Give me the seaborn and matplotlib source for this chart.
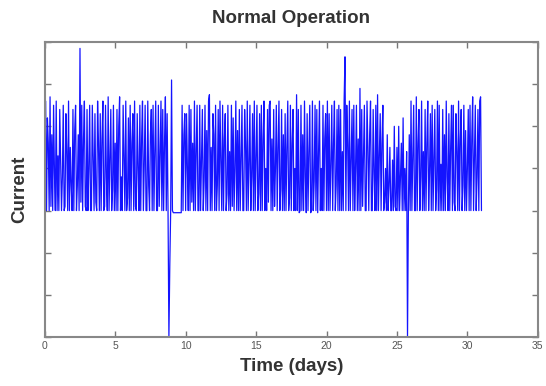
import numpy as np
import pandas as pd
import matplotlib
matplotlib.use("Agg")
import matplotlib.pyplot as plt
import seaborn as sns

# ---- data ----
step_days = 0.0625
current = [
    4.4, 5.6, 3.0, 5.2, 4.6, 3.0, 5.7, 3.1, 4.8, 3.0, 5.5, 3.9, 3.0, 5.6, 3.0, 4.3,
    3.0, 5.4, 4.2, 3.0, 3.8, 5.5, 3.0, 3.1, 5.3, 4.4, 3.0, 5.6, 3.0, 4.5, 3.6, 3.0,
    5.4, 3.0, 4.9, 5.5, 3.0, 3.6, 4.8, 3.0, 6.85, 3.2, 5.5, 3.0, 4.7, 5.6, 3.1, 3.0,
    5.4, 3.0, 4.0, 5.5, 3.0, 3.0, 5.5, 4.2, 3.0, 5.3, 3.2, 3.0, 5.6, 4.6, 3.0, 5.3,
    3.0, 4.7, 5.6, 3.0, 3.1, 5.5, 3.8, 3.0, 5.7, 3.0, 4.2, 5.4, 3.0, 3.5, 5.5, 3.0,
    4.6, 3.0, 5.4, 3.0, 5.0, 5.7, 3.0, 3.8, 3.0, 5.5, 4.3, 3.0, 5.6, 3.0, 3.3, 5.2,
    3.0, 5.5, 3.0, 4.6, 5.3, 3.0, 5.6, 3.1, 3.0, 5.3, 4.0, 3.0, 5.5, 3.0, 4.7, 5.6,
    3.0, 4.1, 5.5, 3.0, 3.0, 5.6, 3.6, 3.0, 4.8, 5.4, 3.0, 5.5, 3.0, 4.4, 5.6, 3.0,
    3.0, 5.5, 3.1, 4.3, 5.6, 3.0, 5.4, 3.0, 4.6, 5.7, 3.0, 5.3, 3.0, 0.0, 1.7, 3.0,
    6.1, 3.0, 2.95, 2.95, 2.95, 2.95, 2.95, 2.95, 2.95, 2.95, 2.95, 2.95, 5.5, 3.0, 4.8, 5.3,
    3.0, 5.3, 4.0, 3.0, 5.5, 3.0, 5.4, 3.2, 4.6, 3.0, 5.6, 3.0, 4.4, 5.5, 3.0, 3.0,
    5.5, 3.0, 4.2, 5.4, 3.0, 3.7, 5.5, 3.0, 4.9, 3.0, 5.6, 5.75, 3.0, 4.5, 3.0, 5.3,
    4.8, 3.0, 5.5, 3.0, 3.6, 5.4, 3.0, 5.6, 4.2, 3.0, 5.5, 3.0, 4.7, 5.3, 3.0, 3.4,
    5.5, 3.0, 4.4, 3.0, 5.5, 3.1, 5.2, 3.0, 4.0, 5.6, 3.0, 4.9, 3.0, 5.4, 3.0, 4.3,
    5.5, 3.0, 3.0, 5.4, 4.6, 3.0, 5.6, 3.0, 4.1, 5.5, 3.0, 3.8, 5.3, 3.0, 5.6, 3.0,
    4.2, 5.5, 3.0, 3.4, 5.3, 3.0, 5.5, 3.0, 4.7, 5.6, 3.0, 4.0, 3.0, 5.4, 3.2, 5.5,
    5.6, 3.0, 4.7, 3.0, 5.4, 3.1, 4.0, 5.5, 3.0, 4.5, 5.6, 3.0, 3.5, 5.4, 3.0, 4.8,
    3.0, 5.3, 3.0, 4.5, 5.6, 3.0, 3.3, 5.5, 3.0, 4.6, 5.4, 3.0, 4.0, 3.0, 5.75, 3.0,
    5.4, 2.95, 3.0, 5.5, 3.0, 4.8, 3.0, 5.6, 3.8, 2.95, 5.3, 3.0, 4.4, 5.5, 2.95, 3.0,
    5.6, 3.0, 3.7, 5.5, 3.0, 5.4, 2.95, 4.4, 5.6, 3.0, 4.0, 3.0, 5.5, 3.0, 4.7, 5.3,
    3.0, 5.6, 3.0, 5.3, 3.0, 4.1, 5.5, 3.0, 4.6, 5.6, 3.0, 3.6, 5.4, 3.0, 5.5, 3.0,
    5.4, 3.0, 4.4, 3.0, 5.6, 6.65, 3.0, 5.5, 4.6, 3.0, 5.6, 3.0, 4.2, 5.4, 3.0, 5.5,
    3.0, 4.0, 5.5, 3.0, 4.7, 3.0, 5.9, 3.0, 5.4, 3.1, 4.3, 5.5, 3.0, 3.0, 5.6, 4.5,
    3.0, 4.8, 5.6, 3.0, 3.0, 5.4, 3.9, 3.0, 5.5, 3.0, 5.75, 3.0, 4.3, 5.3, 3.0, 4.6,
    5.5, 3.0, 3.2, 4.0, 3.0, 4.8, 3.0, 3.6, 4.5, 3.0, 3.0, 4.2, 3.0, 5.0, 3.1, 3.0,
    4.5, 3.0, 5.0, 3.0, 3.8, 4.6, 3.0, 5.2, 3.0, 4.0, 3.0, 4.4, 0.0, 3.0, 4.8, 3.0,
    5.6, 3.0, 4.2, 5.5, 3.0, 3.0, 5.7, 3.0, 4.6, 5.4, 3.0, 3.8, 5.6, 3.0, 4.4, 3.0,
    5.4, 3.0, 4.6, 5.6, 3.0, 3.9, 5.3, 3.0, 5.5, 3.0, 4.2, 5.4, 3.0, 3.5, 5.6, 3.0,
    5.5, 3.0, 4.1, 3.0, 5.4, 3.0, 4.8, 3.0, 5.6, 3.8, 3.0, 5.3, 3.0, 4.5, 5.5, 3.0,
    5.5, 3.2, 3.0, 5.3, 4.4, 3.0, 5.6, 3.0, 4.7, 5.4, 3.0, 3.6, 5.5, 3.0, 4.9, 3.0,
    4.0, 5.4, 3.0, 5.5, 3.0, 4.7, 5.7, 3.0, 4.3, 5.5, 3.0, 3.8, 5.4, 3.0, 5.6, 5.7,
    3.0,
]
time_days = np.arange(len(current)) * step_days
x_ticks = [0, 5, 10, 15, 20, 25, 30, 35]

df = pd.DataFrame({"Time (days)": time_days, "Current": current})

sns.set_theme(style="white")
plt.rcParams["font.family"] = ["Liberation Sans", "DejaVu Sans"]

fig = plt.figure(figsize=(5.46, 3.86), dpi=100)
ax = fig.add_axes([0.082, 0.127, 0.903, 0.764])

sns.lineplot(data=df, x="Time (days)", y="Current", ax=ax,
             color="#1414ff", linewidth=0.9, estimator=None, sort=False)

ax.set_xlim(0, 35)
ax.set_ylim(0, 7)
ax.set_xticks(x_ticks)
ax.set_xticklabels([str(t) for t in x_ticks])
ax.set_yticks(range(0, 8))
ax.set_yticklabels([])
ax.tick_params(direction="in", length=4, width=1, color="#777777",
               top=True, right=True, bottom=True, left=True,
               labelsize=7.5, labelcolor="#555555", pad=3)
for s in ax.spines.values():
    s.set_color("#888888")
    s.set_linewidth(1.5)

ax.set_title("Normal Operation", fontsize=13.5, fontweight="bold",
             color="#333333", pad=14)
ax.set_xlabel("Time (days)", fontsize=13.5, fontweight="bold", color="#333333",
              labelpad=5)
ax.set_ylabel("Current", fontsize=13.5, fontweight="bold", color="#333333",
              labelpad=9)

fig.savefig("out.png", dpi=100)
